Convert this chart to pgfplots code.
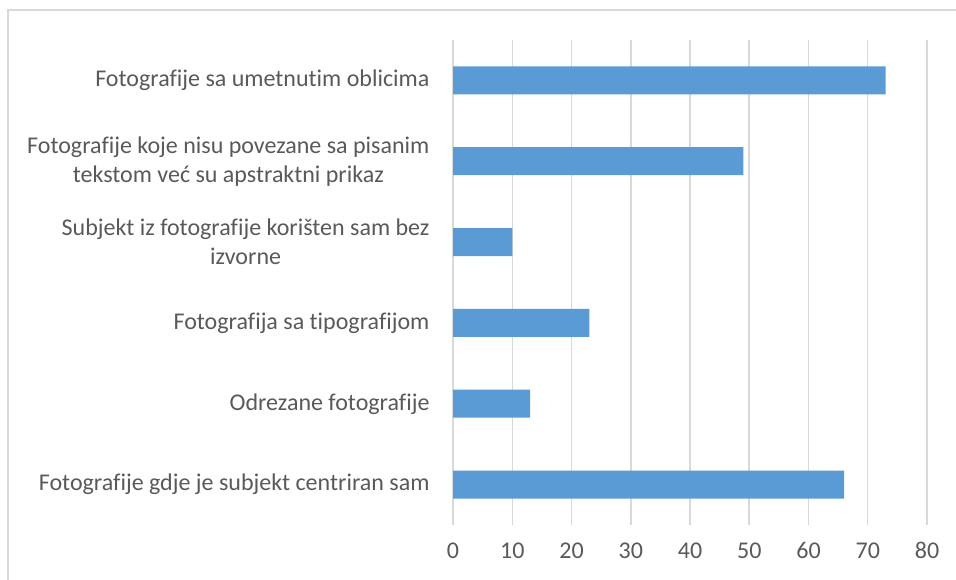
\documentclass[border=0pt]{standalone}
\usepackage{pgfplots}
\pgfplotsset{compat=1.18}
\usepackage{fontspec}
\setmainfont[Ligatures=NoCommon]{Carlito}
\definecolor{barblue}{HTML}{5B9BD5}
\definecolor{gridgray}{HTML}{D9D9D9}
\definecolor{txtgray}{HTML}{595959}
\begin{document}
\begin{tikzpicture}
\path[use as bounding box] (0,0) rectangle (956bp,580bp);
\draw[gridgray, line width=1.5bp] (8bp,0) -- (8bp,570bp) -- (956bp,570bp);
\begin{axis}[
  at={(453bp,55bp)}, anchor=south west,
  scale only axis, width=474bp, height=485bp,
  xbar, bar width=28bp,
  xmin=0, xmax=80, xtick={0,10,...,80},
  ymin=-0.5, ymax=5.5, ytick={0,1,2,3,4,5},
  yticklabels={Fotografije gdje je subjekt centriran sam, Odrezane fotografije, Fotografija sa tipografijom, {Subjekt iz fotografije korišten sam bez\\izvorne}, {Fotografije koje nisu povezane sa pisanim\\tekstom već su apstraktni prikaz}, Fotografije sa umetnutim oblicima},
  xmajorgrids, major grid style={gridgray, line width=1.5bp},
  axis line style={draw=none},
  major tick length=0pt,
  tick label style={font=\fontsize{24bp}{29bp}\selectfont, text=txtgray},
  yticklabel style={align=center, xshift=-20bp},
  xticklabel style={yshift=-14bp},
  /pgf/number format/assume math mode=true,
]
\addplot[fill=barblue, draw=none] coordinates {(66,0) (13,1) (23,2) (10,3) (49,4) (73,5)};
\end{axis}
\end{tikzpicture}
\end{document}
